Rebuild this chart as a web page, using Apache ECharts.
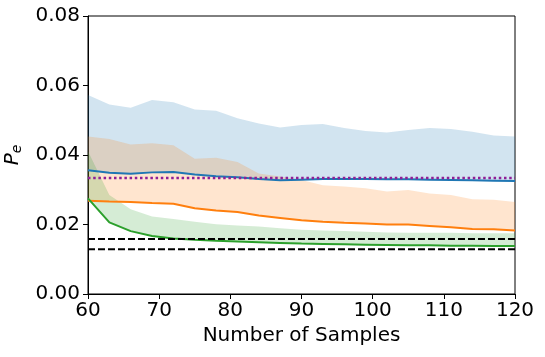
<!DOCTYPE html>
<html>
<head>
<meta charset="utf-8">
<script src="https://cdn.jsdelivr.net/npm/echarts@6/dist/echarts.min.js"></script>
<style>
  html, body { margin: 0; padding: 0; background: #fff; }
  #chart { width: 545px; height: 357px; }
</style>
</head>
<body>
<div id="chart"></div>
<script>
// sample counts on the x axis
const samples = [60, 63, 66, 69, 72, 75, 78, 81, 84, 87, 90, 93, 96, 99, 102, 105, 108, 111, 114, 117, 120];

// blue: mean and upper edge of band
const blueMean = [0.0356, 0.0349, 0.0346, 0.0350, 0.0351, 0.0344, 0.0339, 0.0336, 0.0331, 0.0327, 0.0329,
  0.0331, 0.0331, 0.0331, 0.0330, 0.0330, 0.0329, 0.0328, 0.0327, 0.0326, 0.0325];
const blueUpper = [0.0573, 0.0545, 0.0536, 0.0558, 0.0552, 0.0531, 0.0527, 0.0506, 0.0491, 0.0479, 0.0486,
  0.0489, 0.0478, 0.0469, 0.0465, 0.0472, 0.0478, 0.0475, 0.0467, 0.0456, 0.0453];

// orange
const orangeMean = [0.0268, 0.0266, 0.0265, 0.0262, 0.0260, 0.0247, 0.0240, 0.0236, 0.0226, 0.0219, 0.0212,
  0.0208, 0.0205, 0.0203, 0.0200, 0.0200, 0.0196, 0.0192, 0.0187, 0.0186, 0.0183];
const orangeUpper = [0.0453, 0.0446, 0.0430, 0.0434, 0.0428, 0.0389, 0.0392, 0.0380, 0.0347, 0.0338, 0.0328,
  0.0313, 0.0309, 0.0304, 0.0295, 0.0299, 0.0289, 0.0285, 0.0273, 0.0271, 0.0265];

// green
const greenMean = [0.0275, 0.0206, 0.0181, 0.0167, 0.0160, 0.0156, 0.0153, 0.0151, 0.0149, 0.0147, 0.0145,
  0.0144, 0.0143, 0.0142, 0.0141, 0.0140, 0.0140, 0.0139, 0.0139, 0.0138, 0.0138];
const greenUpper = [0.0411, 0.0285, 0.0244, 0.0223, 0.0216, 0.0208, 0.0201, 0.0197, 0.0194, 0.0189, 0.0185,
  0.0183, 0.0181, 0.0179, 0.0177, 0.0176, 0.0176, 0.0176, 0.0175, 0.0175, 0.0175];

// horizontal reference levels
const dashedLevels = [0.0158, 0.0129];
const dottedLevel = 0.0334;

const xTicks = [60, 70, 80, 90, 100, 110, 120];
const yTicks = [0, 0.02, 0.04, 0.06, 0.08];

const FONT = "DejaVu Sans";
const FS = 20;

function pairs(ys) {
  return samples.map((x, i) => [x, ys[i]]);
}

// shaded band between the mean and upper edge, drawn as one polygon
function band(color, lower, upper) {
  return {
    type: "custom",
    data: samples.map((x, i) => [x, lower[i], upper[i]]),
    encode: { x: 0, y: [1, 2] },
    z: 2,
    renderItem: (params, api) => {
      if (params.dataIndex !== 0) return null;
      const top = samples.map((x, i) => api.coord([x, upper[i]]));
      const bot = samples.map((x, i) => api.coord([x, lower[i]])).reverse();
      return {
        type: "polygon",
        shape: { points: top.concat(bot) },
        style: { fill: color, opacity: 0.2 }
      };
    }
  };
}

function meanLine(color, ys) {
  return {
    type: "line",
    data: pairs(ys),
    showSymbol: false,
    lineStyle: { color: color, width: 2 },
    z: 5
  };
}

function levelSeries(y, style) {
  return {
    type: "line",
    data: [[xTicks[0], y], [xTicks[xTicks.length - 1], y]],
    showSymbol: false,
    lineStyle: style,
    z: 6
  };
}

const chart = echarts.init(document.getElementById("chart"));

chart.setOption({
  animation: false,
  textStyle: { fontFamily: FONT },
  grid: {
    left: 88, right: 30, top: 16, bottom: 63,
    outerBoundsMode: "none",
    containLabel: false,
    show: true, borderColor: "#000", borderWidth: 1
  },
  xAxis: {
    type: "value",
    min: xTicks[0], max: xTicks[xTicks.length - 1], interval: 10,
    name: "Number of Samples",
    nameLocation: "middle",
    nameGap: 21,
    nameTextStyle: { fontSize: FS, color: "#000", fontFamily: FONT },
    axisLine: { lineStyle: { color: "#000", width: 1 } },
    axisTick: { show: true, inside: false, length: 5, lineStyle: { color: "#000" } },
    axisLabel: { fontSize: FS, color: "#000", margin: 7, fontFamily: FONT },
    splitLine: { show: false }
  },
  yAxis: {
    type: "value",
    min: yTicks[0], max: yTicks[yTicks.length - 1], interval: 0.02,
    name: "{p|P}{e|e}",
    nameLocation: "middle",
    nameGap: 52,
    nameRotate: 90,
    nameTextStyle: {
      rich: {
        p: { fontSize: FS, fontStyle: "italic", color: "#000", fontFamily: FONT },
        e: { fontSize: 14, fontStyle: "italic", color: "#000", fontFamily: FONT, padding: [10, 0, 0, 0] }
      }
    },
    axisLine: { show: true, lineStyle: { color: "#000", width: 1 } },
    axisTick: { show: true, inside: false, length: 5, lineStyle: { color: "#000" } },
    axisLabel: {
      fontSize: FS, color: "#000", margin: 8, fontFamily: FONT,
      formatter: v => v.toFixed(2)
    },
    splitLine: { show: false }
  },
  series: [
    band("#1f77b4", blueMean, blueUpper),
    meanLine("#1f77b4", blueMean),
    band("#ff7f0e", orangeMean, orangeUpper),
    meanLine("#ff7f0e", orangeMean),
    band("#2ca02c", greenMean, greenUpper),
    meanLine("#2ca02c", greenMean),
    ...dashedLevels.map(y => levelSeries(y, { color: "#000", width: 2, type: [7, 3] })),
    levelSeries(dottedLevel, { color: "#8f1f97", width: 2.5, type: [2.5, 2.7] })
  ]
});
</script>
</body>
</html>
